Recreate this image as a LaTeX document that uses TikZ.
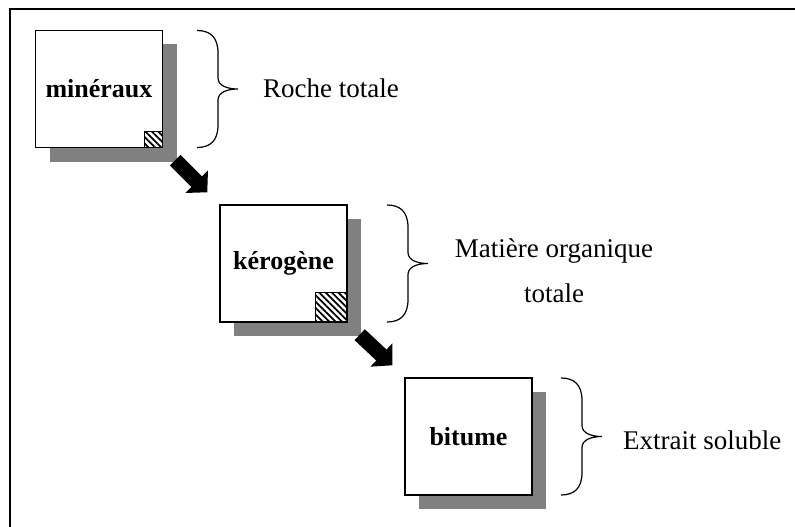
\documentclass[tikz,border=0pt]{standalone}
\usepackage{fontspec}
\setmainfont{Liberation Serif}
\usetikzlibrary{arrows.meta,shadows,patterns.meta}

\begin{document}
\begin{tikzpicture}[x=1pt,y=1pt,
	box/.style={draw, line width=1.4pt, fill=white, minimum width=127pt, minimum height=117pt,
		font=\fontsize{26}{30}\selectfont\bfseries,
		drop shadow={shadow xshift=14pt, shadow yshift=-14pt, fill=gray, opacity=1}},
	hatch/.style={draw, line width=1pt, inner sep=0pt, anchor=south east,
		pattern={Lines[angle=-45,distance=4.5pt,line width=1.8pt]}},
	desc/.style={font=\fontsize{27}{45}\selectfont, align=center, inner sep=0pt},
	bigarrow/.style={line width=15pt, -{Triangle[length=15pt,width=31pt]}},
	rbrace/.pic={\draw[line width=1.2pt] (-41,58.5) .. controls (-28,58.5) and (-20,52) .. (-20,36)
		-- (-20,11) .. controls (-20,3) and (-10,0) .. (0,0)
		.. controls (-10,0) and (-20,-3) .. (-20,-11)
		-- (-20,-36) .. controls (-20,-52) and (-28,-58.5) .. (-41,-58.5);}
	]
	\useasboundingbox (0,0) rectangle (795,-527);
	% frame
	\draw[line width=2pt] (10,-527) -- (10,-9) -- (795,-9);
	% boxes
	\node[box] (min) at (99,-89) {minéraux};
	\node[hatch, minimum width=18pt, minimum height=16pt] (min-h) at (min.south east) {};
	\node[box] (ker) at (283.5,-263.5) {kérogène};
	\node[hatch, minimum width=32pt, minimum height=30pt] (ker-h) at (ker.south east) {};
	\node[box] (bit) at (468.5,-436.5) {bitume};
	% arrows
	\draw[bigarrow] ([shift={(12,-12)}]min.south east) -- ([shift={(-12,12)}]ker.north west);
	\draw[bigarrow] ([shift={(12,-12)}]ker.south east) -- ([shift={(-12,12)}]bit.north west);
	% braces and texts
	\pic at (238,-89) {rbrace};
	\node[desc, anchor=west] (roche) at (263,-88) {Roche totale};
	\pic at (428,-263.5) {rbrace};
	\node[desc] (mat) at (554,-271) {Matière organique\\totale};
	\pic at (602,-436.5) {rbrace};
	\node[desc, anchor=west] (ext) at (623,-440) {Extrait soluble};
\end{tikzpicture}
\end{document}
